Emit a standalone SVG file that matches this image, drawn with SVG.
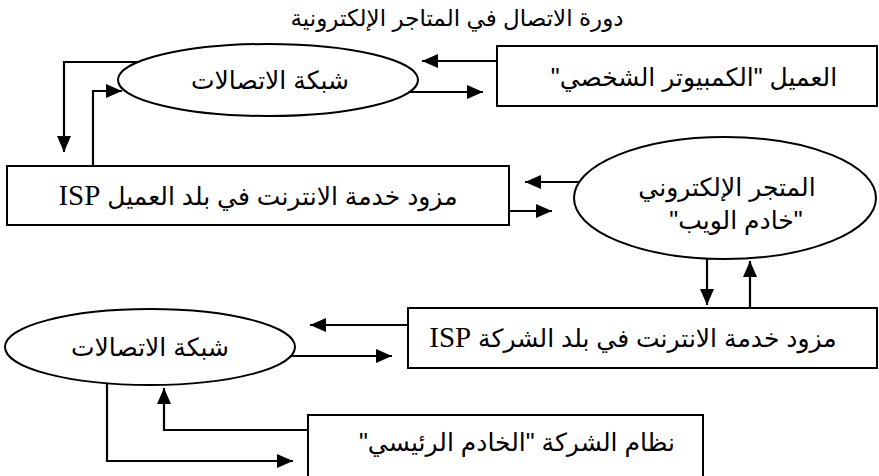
<svg xmlns="http://www.w3.org/2000/svg" width="879" height="476" viewBox="0 0 879 476">
<style>
.shape{fill:#fff;stroke:#000;stroke-width:2}
.conn{fill:none;stroke:#000;stroke-width:2.2}
.t{font-family:"Liberation Sans","DejaVu Sans",Arial,sans-serif;font-size:25px;fill:#000;text-anchor:middle;direction:rtl}
.title{font-size:23px}
.lat{font-family:"Liberation Serif","Times New Roman",serif;font-size:29px}
</style>
<defs>
<marker id="ah" markerUnits="userSpaceOnUse" markerWidth="18" markerHeight="14" refX="16" refY="7" orient="auto">
<path d="M0,0 L16,7 L0,14 z" fill="#000"/>
</marker>
</defs>
<rect width="879" height="476" fill="#fff"/>
<text class="t title" x="457" y="26">دورة الاتصال في المتاجر الإلكترونية</text>
<g id="net1">
<ellipse class="shape" cx="268" cy="80" rx="150" ry="36"/>
<text class="t" x="270" y="89">شبكة الاتصالات</text>
</g>
<g id="client">
<rect class="shape" x="497" y="46" width="380" height="60"/>
<text class="t" x="694" y="86">العميل "الكمبيوتر الشخصي"</text>
</g>
<g id="isp1">
<rect class="shape" x="7" y="166" width="502" height="59"/>
<text class="t" x="258" y="205">مزود خدمة الانترنت في بلد العميل <tspan class="lat">ISP</tspan></text>
</g>
<g id="store">
<ellipse class="shape" cx="725" cy="198" rx="151" ry="61"/>
<text class="t" x="727" y="196">المتجر الإلكتروني</text>
<text class="t" x="736" y="229">"خادم الويب"</text>
</g>
<g id="isp2">
<rect class="shape" x="408" y="308" width="469" height="60"/>
<text class="t" x="633" y="347">مزود خدمة الانترنت في بلد الشركة <tspan class="lat">ISP</tspan></text>
</g>
<g id="net2">
<ellipse class="shape" cx="150" cy="347" rx="145" ry="38"/>
<text class="t" x="150" y="356">شبكة الاتصالات</text>
</g>
<g id="server">
<rect class="shape" x="308" y="415" width="395" height="70"/>
<text class="t" x="517" y="451">نظام الشركة "الخادم الرئيسي"</text>
</g>
<g id="connectors" class="conn" marker-end="url(#ah)">
<path d="M497,61 L422,61"/>
<path d="M409,92 L483,92"/>
<path d="M138,62 L64,62 L64,152"/>
<path d="M93,166 L93,91 L122,91"/>
<path d="M579,182 L525,182"/>
<path d="M509,211 L552,211"/>
<path d="M707,259 L707,305"/>
<path d="M750,308 L750,261"/>
<path d="M408,325 L310,325"/>
<path d="M291,356 L392,356"/>
<path d="M308,430 L164,430 L164,388"/>
<path d="M107,383 L107,461 L293,461"/>
</g>
</svg>
